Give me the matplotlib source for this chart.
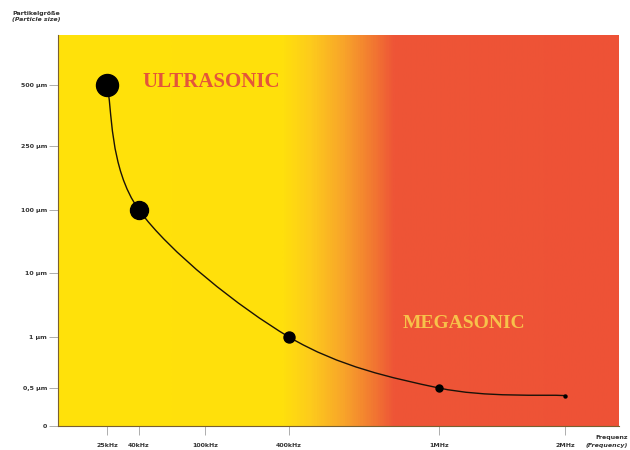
import numpy as np
import matplotlib
matplotlib.use('Agg')
import matplotlib.pyplot as plt
from matplotlib.colors import LinearSegmentedColormap
from matplotlib.path import Path
from matplotlib.patches import PathPatch

# data: frequency (kHz) vs. particle size (um)
freq_khz = [25, 40, 400, 1000, 2000]
size_um = [500, 100, 1, 0.5, 0.4]

x_ticks = [25, 40, 100, 400, 1000, 2000]
x_labels = ['25kHz', '40kHz', '100kHz', '400kHz', '1MHz', '2MHz']
y_ticks = [0, 0.5, 1, 10, 100, 250, 500]
y_labels = ['0', '0,5 µm', '1 µm', '10 µm', '100 µm', '250 µm', '500 µm']

# axis scales of the original are not uniform: anchor values -> screen units
x_anchor_val = [0, 25, 40, 100, 400, 1000, 2000, 2500]
x_anchor_pos = [58, 107, 139, 205, 289, 439, 565, 619]
y_anchor_val = [0, 0.5, 1, 10, 100, 250, 500, 800]
y_anchor_pos = [0, 38, 89, 153, 216, 280, 341, 391]

marker_px = [22, 18, 11, 7, 3]


def fwd(a, b):
    return lambda v: np.interp(v, a, b)


fig = plt.figure(figsize=(6.3, 4.5), dpi=100)
ax = fig.add_axes([58 / 630, 1 - 426 / 450, 561 / 630, 391 / 450])

ax.set_xscale('function', functions=(fwd(x_anchor_val, x_anchor_pos), fwd(x_anchor_pos, x_anchor_val)))
ax.set_yscale('function', functions=(fwd(y_anchor_val, y_anchor_pos), fwd(y_anchor_pos, y_anchor_val)))
ax.set_xlim(0, 2500)
ax.set_ylim(0, 800)

# background yellow -> red
cmap = LinearSegmentedColormap.from_list('bg', [
    (0.0, '#ffe20a'), (0.40, '#ffe00c'), (0.45, '#fdcb1c'),
    (0.51, '#f8a42a'), (0.56, '#f27a31'), (0.60, '#ee5537'), (1.0, '#ee5236')])
ax.imshow(np.linspace(0, 1, 600).reshape(1, -1), cmap=cmap, aspect='auto',
          extent=[0, 1, 0, 1], transform=ax.transAxes, zorder=0)

# smooth connecting curve (catmull-rom in scaled space)
sx = fwd(x_anchor_val, x_anchor_pos)(np.array(freq_khz, float))
sy = fwd(y_anchor_val, y_anchor_pos)(np.array(size_um, float))
pts = np.column_stack([sx, sy])
verts = [pts[0]]
codes = [Path.MOVETO]
for i in range(len(pts) - 1):
    p0 = pts[max(i - 1, 0)]
    p1, p2 = pts[i], pts[i + 1]
    p3 = pts[min(i + 2, len(pts) - 1)]
    verts += [p1 + (p2 - p0) / 6, p2 - (p3 - p1) / 6, p2]
    codes += [Path.CURVE4] * 3
ax.add_patch(PathPatch(Path(verts, codes), facecolor='none', edgecolor='#1a1208',
                       lw=1.0, transform=ax.transLimits + ax.transAxes, zorder=2))

for f, s, m in zip(freq_khz, size_um, marker_px):
    ax.plot(f, s, 'o', color='black', ms=m * 0.72, zorder=3)

ax.text(0.151, 0.880, 'ULTRASONIC', transform=ax.transAxes, family='Liberation Serif',
        fontsize=15, fontweight='bold', color='#e4553a', va='center', ha='left')
ax.text(0.615, 0.263, 'MEGASONIC', transform=ax.transAxes, family='Liberation Serif',
        fontsize=14, fontweight='bold', color='#f7c24a', va='center', ha='left')

ax.set_xticks(x_ticks)
ax.set_xticklabels(x_labels)
ax.set_yticks(y_ticks)
ax.set_yticklabels(y_labels)
ax.minorticks_off()
ax.tick_params(axis='both', length=6.5, width=0.6, color='#a0a0a0',
               labelsize=4.5, labelcolor='#333333')
ax.tick_params(axis='x', pad=6)
ax.tick_params(axis='y', pad=1.5)
for lab in ax.get_xticklabels() + ax.get_yticklabels():
    lab.set_fontweight('bold')

for side in ['top', 'right']:
    ax.spines[side].set_visible(False)
for side in ['left', 'bottom']:
    ax.spines[side].set_color('#7a6030')
    ax.spines[side].set_linewidth(0.8)

fig.text(12 / 630, 1 - 13 / 450, 'Partikelgröße', fontsize=4.5, fontweight='bold',
         color='#333333', va='center')
fig.text(12 / 630, 1 - 20 / 450, '(Particle size)', fontsize=4.5, fontweight='bold',
         style='italic', color='#333333', va='center')
fig.text(1 - 2 / 630, 1 - 437 / 450, 'Frequenz', fontsize=4.5, fontweight='bold',
         color='#333333', va='center', ha='right')
fig.text(1 - 2 / 630, 1 - 445 / 450, '(Frequency)', fontsize=4.5, fontweight='bold',
         style='italic', color='#333333', va='center', ha='right')

fig.savefig('out.png', dpi=100)
